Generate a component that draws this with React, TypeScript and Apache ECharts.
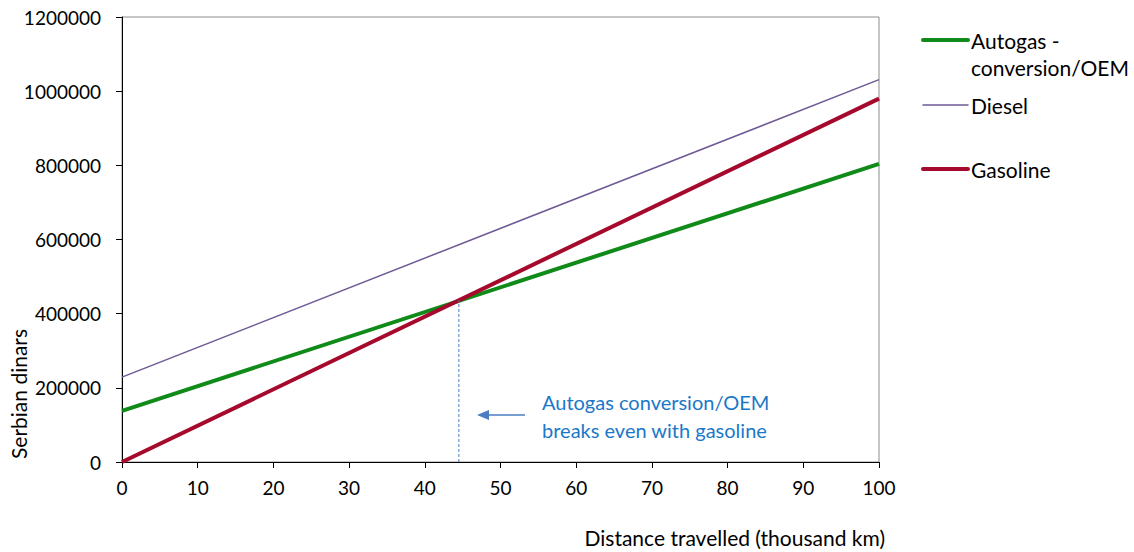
import React, { useEffect, useRef } from "react";
import * as echarts from "echarts";

const distanceKm = [0, 100];
const autogas = [138000, 804000];
const diesel = [229000, 1031000];
const gasoline = [0, 980000];
const breakEven = { x: 44.5, y: 436000 };
const yTicks = [0, 200000, 400000, 600000, 800000, 1000000, 1200000];
const xTicks = [0, 10, 20, 30, 40, 50, 60, 70, 80, 90, 100];

const GREEN = "#108a18";
const RED = "#a50a2c";
const PURPLE = "#6f5a96";
const BLUE_TXT = "#1a78c8";
const FONT = "Lato";

const toPairs = (xs: number[], ys: number[]) => xs.map((x, i) => [x, ys[i]]);

export default function App() {
  const ref = useRef<HTMLDivElement>(null);
  useEffect(() => {
    if (!ref.current) return;
    const chart = echarts.init(ref.current, undefined, { renderer: "svg" });
    const legendItems = [
      { color: GREEN, width: 4, y: 40, lines: ["Autogas -", "conversion/OEM"] },
      { color: PURPLE, width: 1.5, y: 105, lines: ["Diesel"] },
      { color: RED, width: 4, y: 169, lines: ["Gasoline"] },
    ];
    const legendGraphics: any[] = [];
    legendItems.forEach((it) => {
      legendGraphics.push({
        type: "line",
        shape: { x1: 923, y1: it.y, x2: 968, y2: it.y },
        style: { stroke: it.color, lineWidth: it.width, lineCap: "round" },
      });
      it.lines.forEach((t, k) => {
        legendGraphics.push({
          type: "text",
          x: 971,
          y: it.y + k * 27,
          style: { text: t, font: `21px ${FONT}`, fill: "#000", textAlign: "left", textVerticalAlign: "middle" },
        });
      });
    });
    chart.setOption({
      animation: false,
      grid: { left: 122, right: 255, top: 17, bottom: 90, show: true, borderColor: "#8c8c8c", borderWidth: 1 },
      xAxis: {
        type: "value",
        min: 0,
        max: 100,
        interval: 10,
        axisLine: { show: true, lineStyle: { color: "#000", width: 1 } },
        axisTick: { show: true, length: 6, lineStyle: { color: "#000" } },
        axisLabel: { margin: 16, fontFamily: FONT, fontSize: 19, color: "#000", formatter: (v: number) => (xTicks.includes(v) ? String(v) : "") },
        splitLine: { show: false },
      },
      yAxis: {
        type: "value",
        min: 0,
        max: 1200000,
        interval: 200000,
        axisLine: { show: true, lineStyle: { color: "#000", width: 1 } },
        axisTick: { show: true, length: 6, lineStyle: { color: "#000" } },
        axisLabel: { margin: 21, fontFamily: FONT, fontSize: 19, color: "#000", formatter: (v: number) => (yTicks.includes(v) ? String(v) : "") },
        splitLine: { show: false },
      },
      series: [
        {
          name: "Diesel",
          type: "line",
          data: toPairs(distanceKm, diesel),
          symbol: "none",
          lineStyle: { color: PURPLE, width: 1.5 },
          z: 2,
        },
        {
          name: "Autogas - conversion/OEM",
          type: "line",
          data: toPairs(distanceKm, autogas),
          symbol: "none",
          lineStyle: { color: GREEN, width: 4 },
          z: 3,
        },
        {
          name: "Gasoline",
          type: "line",
          data: toPairs(distanceKm, gasoline),
          symbol: "none",
          lineStyle: { color: RED, width: 4 },
          z: 4,
        },
        {
          name: "Break-even",
          type: "line",
          data: [[breakEven.x, 0], [breakEven.x, breakEven.y]],
          symbol: "none",
          lineStyle: { color: "#4a80c8", width: 1, type: [3, 2] },
          z: 5,
        },
      ],
      graphic: [
        {
          type: "text",
          x: 18,
          y: 394,
          rotation: Math.PI / 2,
          style: { text: "Serbian dinars", font: `21px ${FONT}`, fill: "#000", textAlign: "center", textVerticalAlign: "middle" },
        },
        {
          type: "text",
          x: 885,
          y: 537,
          style: { text: "Distance travelled (thousand km)", font: `21px ${FONT}`, fill: "#000", textAlign: "right", textVerticalAlign: "middle" },
        },
        {
          type: "text",
          x: 542,
          y: 402,
          style: { text: "Autogas conversion/OEM", font: `20px ${FONT}`, fill: BLUE_TXT, textAlign: "left", textVerticalAlign: "middle" },
        },
        {
          type: "text",
          x: 542,
          y: 430,
          style: { text: "breaks even with gasoline", font: `20px ${FONT}`, fill: BLUE_TXT, textAlign: "left", textVerticalAlign: "middle" },
        },
        {
          type: "line",
          shape: { x1: 525, y1: 415, x2: 484, y2: 415 },
          style: { stroke: "#4a7ec0", lineWidth: 1.5 },
        },
        {
          type: "polygon",
          shape: { points: [[477, 415], [489, 410], [489, 420]] },
          style: { fill: "#4a7ec0" },
        },
        ...legendGraphics,
      ],
    });
    return () => chart.dispose();
  }, []);
  return <div ref={ref} style={{ width: 1134, height: 552, position: "absolute", left: 0, top: 0 }} />;
}
